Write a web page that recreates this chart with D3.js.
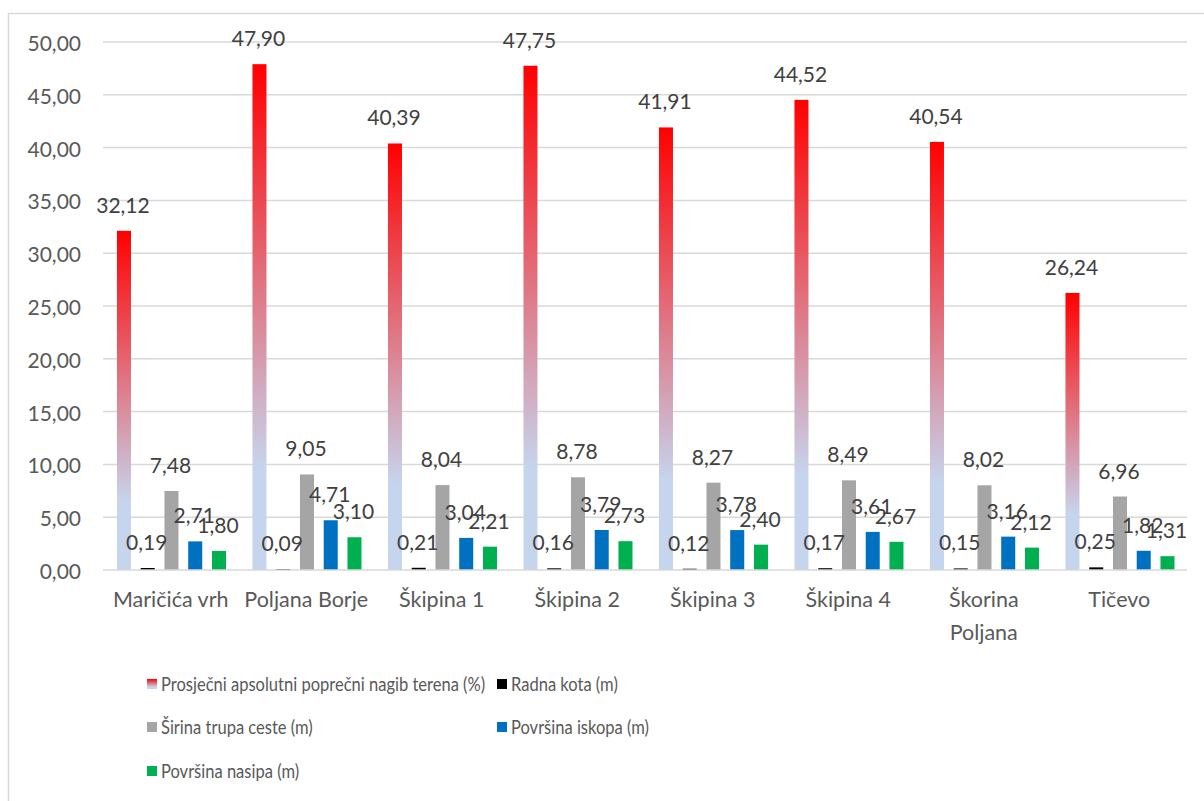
<!DOCTYPE html>
<html><head><meta charset="utf-8">
<script src="https://cdn.jsdelivr.net/npm/d3@7"></script>
<style>
html,body{margin:0;padding:0;background:#fff;}
svg{display:block;}
text{font-family:Lato,"Open Sans",sans-serif;}
</style></head>
<body>
<svg id="c" width="1204" height="801"></svg>
<script>
const categories = ["Maričića vrh","Poljana Borje","Škipina 1","Škipina 2","Škipina 3","Škipina 4","Škorina Poljana","Tičevo"];
const seriesNames = ["Prosječni apsolutni poprečni nagib terena (%)","Radna kota (m)","Širina trupa ceste (m)","Površina iskopa (m)","Površina nasipa (m)"];
const nagib = [32.12,47.90,40.39,47.75,41.91,44.52,40.54,26.24];
const radnaKota = [0.19,0.09,0.21,0.16,0.12,0.17,0.15,0.25];
const sirina = [7.48,9.05,8.04,8.78,8.27,8.49,8.02,6.96];
const iskop = [2.71,4.71,3.04,3.79,3.78,3.61,3.16,1.82];
const nasip = [1.80,3.10,2.21,2.73,2.40,2.67,2.12,1.31];
const yTicks = [0,5,10,15,20,25,30,35,40,45,50];
const colors = ["url(#grad)","#000000","#a5a5a5","#0070c0","#00b050"];

const seriesValues = [nagib, radnaKota, sirina, iskop, nasip];
const fmt = v => d3.format(".2f")(v).replace(".", ",");

const svg = d3.select("#c");
const defs = svg.append("defs");
const g1 = defs.append("linearGradient").attr("id","grad").attr("x1",0).attr("y1",0).attr("x2",0).attr("y2",1);
g1.append("stop").attr("offset","0%").attr("stop-color","#ff0000");
g1.append("stop").attr("offset","80%").attr("stop-color","#c6d5ee");
g1.append("stop").attr("offset","100%").attr("stop-color","#c6d5ee");

// chart border
svg.append("rect").attr("x",8.5).attr("y",13.5).attr("width",1220).attr("height",820)
  .attr("fill","none").attr("stroke","#d9d9d9").attr("stroke-width",1.5);

const pLeft = 103, pRight = 1187, pTop = 42, pBottom = 570;
const y = d3.scaleLinear().domain([0,50]).range([pBottom, pTop]);
const x0 = d3.scaleBand().domain(categories).range([pLeft, pRight]).paddingInner(0).paddingOuter(0);
const x1 = d3.scaleBand().domain(d3.range(5)).range([9.1, 9.1+118.75]).paddingInner(0.41).paddingOuter(0.205);

// gridlines
svg.append("g").selectAll("line").data(yTicks.filter(d=>d>0)).join("line")
  .attr("x1",pLeft).attr("x2",pRight).attr("y1",d=>y(d)).attr("y2",d=>y(d))
  .attr("stroke","#d9d9d9").attr("stroke-width",1.5);

// y axis labels
const yAxis = d3.axisLeft(y).tickValues(yTicks).tickFormat(fmt).tickSize(0).tickPadding(0);
const ya = svg.append("g").attr("transform","translate(81,0)").call(yAxis);
ya.select(".domain").remove();
ya.selectAll("text").attr("font-size","21px").attr("fill","#595959")
  .attr("font-family","Lato,'Open Sans',sans-serif").attr("dy",null).attr("dominant-baseline","central");

// bars
const groups = svg.append("g").selectAll("g").data(categories).join("g")
  .attr("transform", d => `translate(${x0(d)},0)`);
groups.each(function(cat, ci){
  const gg = d3.select(this);
  seriesValues.forEach((vals, si) => {
    const v = vals[ci];
    gg.append("rect").attr("x", x1(si)).attr("width", x1.bandwidth())
      .attr("y", y(v)).attr("height", y(0)-y(v)).attr("fill", colors[si]);
  });
});

// x axis line
svg.append("line").attr("x1",pLeft).attr("x2",pRight).attr("y1",pBottom).attr("y2",pBottom)
  .attr("stroke","#d9d9d9").attr("stroke-width",1.5);

// data labels
groups.each(function(cat, ci){
  const gg = d3.select(this);
  seriesValues.forEach((vals, si) => {
    const v = vals[ci];
    gg.append("text").attr("x", x1(si)+x1.bandwidth()/2 - 1).attr("y", y(v)-18)
      .attr("text-anchor","middle").attr("font-size","21px").attr("fill","#404040")
      .text(fmt(v));
  });
});

// category labels
const xl = svg.append("g");
categories.forEach(cat => {
  const cx = x0(cat) + x0.bandwidth()/2;
  const lines = cat === "Škorina Poljana" ? ["Škorina","Poljana"] : [cat];
  lines.forEach((ln, i) => {
    xl.append("text").attr("x", cx).attr("y", 607 + i*33).attr("text-anchor","middle")
      .attr("font-size","21.5px").attr("fill","#595959").text(ln);
  });
});

// legend
const legendPos = [[147,684],[497,684],[147,727],[497,727],[147,771]];
const lg = svg.append("g");
seriesNames.forEach((name, i) => {
  const [lx, ly] = legendPos[i];
  lg.append("rect").attr("x", lx).attr("y", ly-5).attr("width",10).attr("height",10)
    .attr("fill", i===0 ? "url(#grad)" : colors[i]);
  lg.append("g").attr("transform", `translate(${lx+14},${ly+7}) scale(0.87,1)`)
    .append("text").attr("x", 0).attr("y", 0).attr("font-size","19px").attr("fill","#595959").text(name);
});
</script>
</body></html>
